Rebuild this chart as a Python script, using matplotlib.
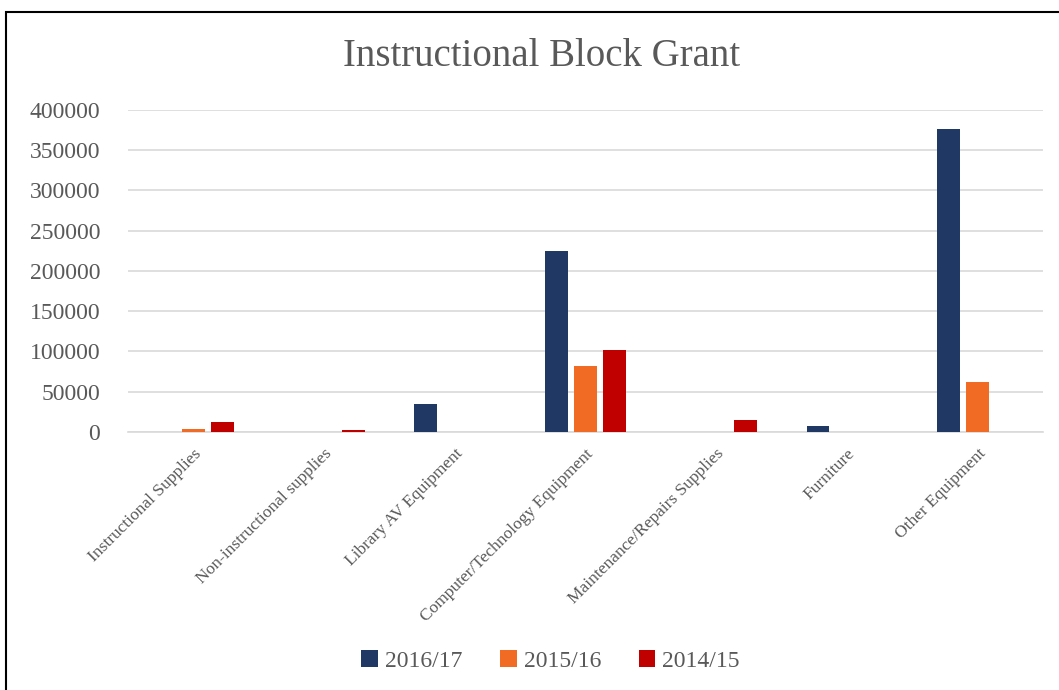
import numpy as np
import matplotlib
matplotlib.use("Agg")
import matplotlib.pyplot as plt
from matplotlib.patches import Rectangle

categories = ["Instructional Supplies", "Non-instructional supplies", "Library AV Equipment",
              "Computer/Technology Equipment", "Maintenance/Repairs Supplies", "Furniture",
              "Other Equipment"]
series_names = ["2016/17", "2015/16", "2014/15"]
v_2016_17 = [0, 0, 35000, 224000, 0, 7000, 376000]
v_2015_16 = [3500, 0, 0, 82000, 0, 0, 62500]
v_2014_15 = [12500, 3000, 0, 102000, 15000, 0, 0]
colors = ["#1f3864", "#f26b24", "#c00000"]

plt.rcParams["font.family"] = ["Liberation Serif", "DejaVu Serif"]
txt = "#595959"

fig = plt.figure(figsize=(10.59, 6.9), dpi=100)
ax = fig.add_axes([0.121, 0.374, 0.864, 0.467])

x = np.arange(len(categories))
w, step = 0.175, 0.222
for i, (vals, name, c) in enumerate(zip([v_2016_17, v_2015_16, v_2014_15], series_names, colors)):
    ax.bar(x + (i - 1) * step, vals, width=w, color=c, label=name, zorder=3)

ax.set_xlim(-0.5, len(categories) - 0.5)
ax.set_ylim(0, 400000)
ax.set_yticks(np.arange(0, 400001, 50000))
ax.yaxis.grid(True, color="#d9d9d9", lw=1.2, zorder=0)
for s in ["top", "right", "left"]:
    ax.spines[s].set_visible(False)
ax.spines["bottom"].set_color("#d9d9d9")
ax.spines["bottom"].set_linewidth(1.2)
ax.tick_params(axis="y", length=0, labelsize=17, labelcolor=txt, pad=20)
ax.tick_params(axis="x", length=0, labelsize=12.5, labelcolor=txt, pad=10)
ax.set_xticks(x)
ax.set_xticklabels(categories, rotation=45, ha="right", rotation_mode="anchor")

fig.suptitle("Instructional Block Grant", x=0.511, y=0.945, fontsize=28, color=txt)
ax.legend(loc="center", frameon=False, ncol=3, fontsize=17, labelcolor=txt,
          handlelength=0.7, handleheight=0.7, handletextpad=0.3, columnspacing=1.6)
ax.get_legend().set_bbox_to_anchor((0.52, 1 - 661 / 690), transform=fig.transFigure)

fig.patches.append(Rectangle((6 / 1059, -0.1), 1.2, 1 - 12 / 690 + 0.1, transform=fig.transFigure,
                             fill=False, ec="black", lw=1.5, zorder=10))

fig.savefig("out.png", dpi=100)
